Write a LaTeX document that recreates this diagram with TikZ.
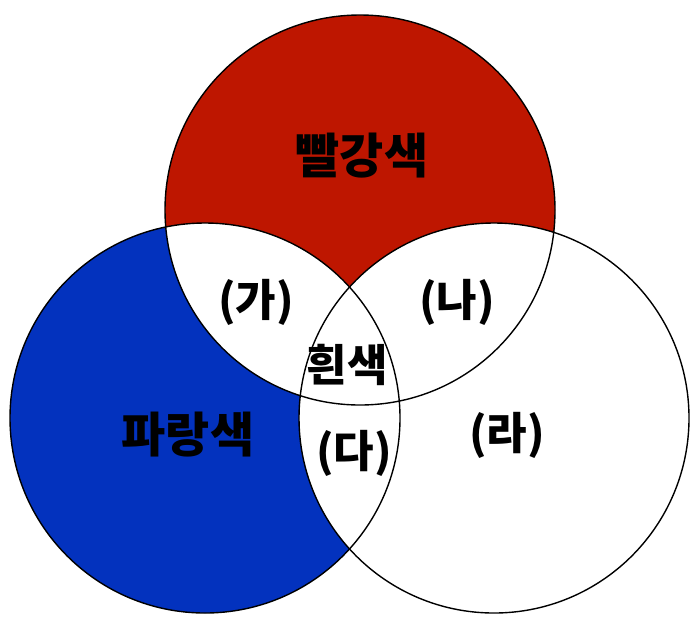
\documentclass[tikz,border=0pt]{standalone}
\usepackage{fontspec}
\newfontfamily\kr{Noto Sans CJK KR}
\definecolor{vred}{RGB}{190,22,0}
\definecolor{vblue}{RGB}{3,50,190}
\begin{document}
\begin{tikzpicture}[x=1pt,y=-1pt,
  lbl/.style={font=\kr\bfseries\fontsize{44}{52}\selectfont, inner sep=0pt},
  biglbl/.style={font=\kr\bfseries\fontsize{48}{56}\selectfont, inner sep=0pt},
  ring/.style={draw=black, line width=1.4pt}]
\useasboundingbox (0,0) rectangle (700,630);
\fill[white] (0,0) rectangle (700,630);
\coordinate (R) at (360,210);
\coordinate (B) at (205,418);
\coordinate (W) at (494,418);
\def\rad{195}
% fills
\fill[vred] (R) circle (\rad);
\fill[vblue] (B) circle (\rad);
\fill[white] (W) circle (\rad);
\begin{scope}
  \clip (R) circle (\rad);
  \fill[white] (B) circle (\rad);
\end{scope}
% outlines
\draw[ring] (R) circle (\rad);
\draw[ring] (B) circle (\rad);
\draw[ring] (W) circle (\rad);
% labels
\node[biglbl] (red) at (362,156) {빨강색};
\node[biglbl] (blue) at (188,435) {파랑색};
\node[lbl] (ga) at (256,302) {(가)};
\node[lbl] (na) at (457,302) {(나)};
\node[lbl] (white) at (347,365) {흰색};
\node[lbl] (da) at (354,453) {(다)};
\node[lbl] (ra) at (507,435) {(라)};
\end{tikzpicture}
\end{document}
